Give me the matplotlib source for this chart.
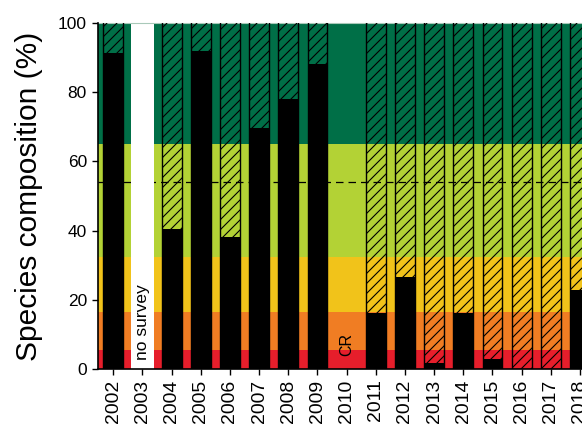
import numpy as np
import matplotlib
matplotlib.use("Agg")
import matplotlib.pyplot as plt

# dpi 120 so the hatch spacing (hatch tile = dpi px) matches the reference
DPI = 120
k = 100 / DPI  # keeps sizes in pixels as tuned at dpi 100

plt.rcParams['font.family'] = ['Liberation Sans', 'DejaVu Sans']
plt.rcParams['hatch.linewidth'] = 0.8 * k
plt.rcParams['hatch.color'] = 'black'

# data
years = list(range(2002, 2019))
values = [91.4, np.nan, 40.4, 91.9, 38.1, 69.7, 77.9, 88.1, np.nan,
          16.3, 26.5, 1.6, 16.3, 3.0, 0.0, 0.0, 22.8]
status = ['ok', 'no survey', 'ok', 'ok', 'ok', 'ok', 'ok', 'ok', 'CR',
          'ok', 'ok', 'ok', 'ok', 'ok', 'ok', 'ok', 'ok']

band_edges = [0, 5.5, 16.5, 32.5, 65, 100]
band_colors = ['#e61e2b', '#f07d23', '#f1c31a', '#b3d235', '#006f47']
threshold = 54

fig = plt.figure(figsize=(582 / DPI, 432 / DPI), dpi=DPI)
ax = fig.add_axes([98 / 582, 1 - 369 / 432, 484 / 582, 346 / 432])

# coloured status bands
for lo, hi, c in zip(band_edges[:-1], band_edges[1:], band_colors):
    ax.axhspan(lo, hi, color=c, lw=0, zorder=0)

ax.axhline(threshold, color='black', lw=0.9 * k, ls=(0, (6, 4)), zorder=1)

for yr, v, st in zip(years, values, status):
    if st == 'no survey':
        ax.bar(yr, 100, width=0.76, color='white', lw=0, zorder=2)
        ax.text(yr, 2.5, 'no survey', rotation=90, ha='center', va='bottom',
                fontsize=12.5 * k, color='black', zorder=5)
    elif st == 'CR':
        ax.text(yr, 7, 'CR', rotation=90, ha='center', va='center',
                fontsize=11.5 * k, color='black', zorder=5)
    else:
        ax.bar(yr, 103, width=0.68, fill=False, hatch='////',
               edgecolor='black', lw=1.0 * k, zorder=3)
        ax.bar(yr, v, width=0.68, color='black', lw=0, zorder=4)

ax.set_xlim(2001.475, 2018.07)
ax.set_ylim(0, 100)
ax.set_xticks(years)
ax.set_xticklabels([str(y) for y in years], rotation=90, fontsize=14 * k)
ax.set_yticks(range(0, 101, 20))
ax.tick_params(axis='y', labelsize=12.5 * k, length=4.5 * k, width=1.0 * k,
               pad=3.5 * k, direction='out')
ax.tick_params(axis='x', length=4.5 * k, width=1.0 * k, direction='out', pad=3 * k)

ax.set_ylabel('Species composition (%)', fontsize=21.5 * k)
ax.yaxis.set_label_coords(-0.113, 0.5)

for s in ['left', 'bottom']:
    ax.spines[s].set_linewidth(1.2 * k)
    ax.spines[s].set_zorder(6)
ax.spines['right'].set_visible(False)
ax.spines['top'].set_color('#a9c9b9')
ax.spines['top'].set_linewidth(0.8 * k)

fig.savefig('out.png', dpi=DPI)
